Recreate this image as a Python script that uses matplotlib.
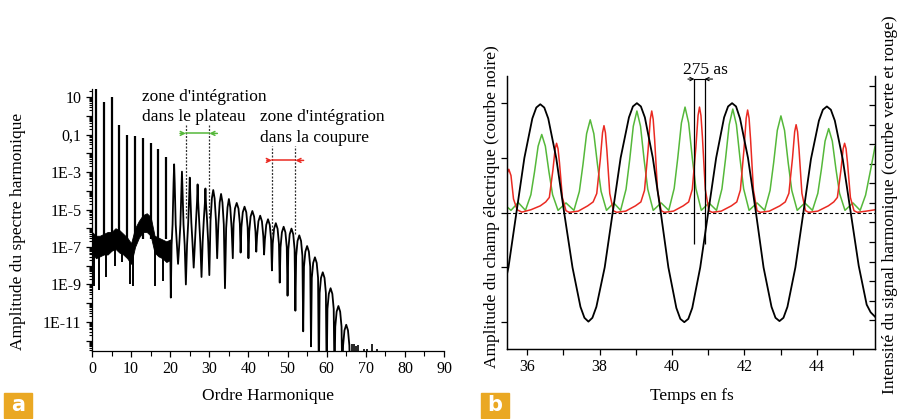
import matplotlib
matplotlib.use("Agg")
import matplotlib.pyplot as plt
import numpy as np
from matplotlib.ticker import FixedLocator, FuncFormatter, MultipleLocator, NullFormatter
from matplotlib.patches import Rectangle

plt.rcParams['font.family'] = ['Liberation Serif', 'DejaVu Serif']

# --- DONNÉES (a) : spectre harmonique, valeurs en log10 ---
# bande de bruit des ordres bas
bg_orders = [0, 1, 2, 3, 4, 5, 6, 7, 8, 9, 10, 11, 12, 13, 14, 15, 16, 17, 18, 19, 20]
bg_hi = [-6.2, -6.4, -6.4, -6.3, -6.2, -6.2, -6.0, -6.1, -6.3, -6.5, -6.8, -6.0, -5.6,
         -5.3, -5.2, -5.4, -6.4, -6.5, -6.6, -6.7, -6.6]
bg_lo = [-7.3, -7.6, -7.5, -7.4, -7.4, -7.2, -7.1, -7.3, -7.4, -7.6, -7.9, -7.0, -6.5,
         -6.2, -6.2, -6.4, -7.3, -7.5, -7.6, -7.8, -7.7]
# pics fins des harmoniques basses
spike_orders = [1, 3, 5, 7, 9, 11, 13, 15, 17, 19]
spike_vals = [1.45, 0.72, 1.0, -0.49, -1.01, -1.08, -1.17, -1.44, -1.77, -2.18]
# creux profonds du bruit
dip_orders = [0.4, 1.8, 3.7, 5.9, 7.6, 9.7, 10.6, 16.1, 18.2]
dip_vals = [-9.1, -9.3, -8.6, -8.0, -7.8, -9.0, -9.1, -9.1, -8.8]
# plateau et coupure (lobes)
lobe_orders = [
    20.0, 20.15, 20.35,
    20.6, 20.85, 21, 21.15, 21.4, 21.7, 22,
    22.3, 22.6, 22.85, 23, 23.15, 23.4, 23.7, 24,
    24.3, 24.6, 24.85, 25, 25.15, 25.4, 25.7, 26,
    26.3, 26.6, 26.85, 27, 27.15, 27.4, 27.7, 28,
    28.3, 28.6, 28.85, 29, 29.15, 29.4, 29.7, 30,
    30.3, 30.65, 31, 31.35, 31.7, 32,
    32.3, 32.65, 33, 33.35, 33.7, 34,
    34.3, 34.65, 35, 35.35, 35.7, 36,
    36.2, 36.55, 37, 37.45, 37.8, 38,
    38.2, 38.55, 39, 39.45, 39.8, 40,
    40.2, 40.55, 41, 41.45, 41.8, 42,
    42.2, 42.55, 43, 43.45, 43.8, 44,
    44.2, 44.55, 45, 45.45, 45.8, 46,
    46.2, 46.55, 47, 47.45, 47.8, 48,
    48.2, 48.55, 49, 49.45, 49.8, 50,
    50.2, 50.55, 51, 51.45, 51.8, 52,
    52.2, 52.55, 53, 53.45, 53.8, 54,
    54.2, 54.55, 55, 55.45, 55.8, 56,
    56.2, 56.55, 57, 57.45, 57.8, 58,
    58.2, 58.55, 59, 59.45, 59.8, 60,
    60.2, 60.55, 61, 61.45, 61.8, 62,
    62.2, 62.55, 63, 63.45, 63.8, 64,
    64.2, 64.55, 65, 65.45, 65.8, 66,
]
lobe_vals = [
    -6.8, -9.7, -6.9,
    -5.8, -3.6, -2.59, -3.6, -5.8, -6.9, -7.9,
    -6.9, -5.8, -3.98, -2.98, -3.98, -5.8, -6.9, -9.0,
    -6.9, -5.7, -4.3, -3.3, -4.3, -5.7, -6.8, -8.1,
    -6.8, -5.6, -4.6, -3.66, -4.6, -5.6, -6.8, -8.6,
    -6.7, -5.5, -4.7, -3.88, -4.7, -5.5, -6.7, -8.5,
    -5.6, -4.41, -3.96, -4.41, -5.6, -7.6,
    -5.8, -4.62, -4.17, -4.62, -5.8, -9.2,
    -6.0, -4.89, -4.44, -4.89, -6.0, -7.6,
    -5.75, -4.95, -4.65, -4.95, -5.75, -7.3,
    -5.95, -5.15, -4.85, -5.15, -5.95, -7.6,
    -6.18, -5.38, -5.08, -5.38, -6.18, -7.25,
    -6.43, -5.63, -5.33, -5.63, -6.43, -7.4,
    -6.62, -5.82, -5.52, -5.82, -6.62, -8.25,
    -6.83, -6.03, -5.73, -6.03, -6.83, -8.9,
    -7.02, -6.22, -5.92, -6.22, -7.02, -9.6,
    -7.12, -6.32, -6.02, -6.32, -7.12, -10.4,
    -7.48, -6.68, -6.38, -6.68, -7.48, -11.5,
    -8.05, -7.25, -6.95, -7.25, -8.05, -12.3,
    -8.65, -7.85, -7.55, -7.85, -8.65, -14,
    -9.45, -8.65, -8.35, -8.65, -9.45, -14,
    -10.3, -9.5, -9.2, -9.5, -10.3, -14,
    -11.25, -10.45, -10.15, -10.45, -11.25, -14,
    -12.25, -11.45, -11.15, -11.45, -12.25, -14,
]
tail_orders = [66.6, 67.1, 67.6, 68.1, 69.6, 70.3, 71.5, 72.8]
tail_vals = [-12.2, -12.15, -12.3, -12.25, -12.45, -12.45, -12.2, -12.45]

# zones d'intégration (ordres)
plateau_zone = [24, 30]
cutoff_zone = [46, 52]

# --- DONNÉES (b) : champ électrique et intensités ---
t_field = [35.44, 35.48, 35.70, 35.92, 36.14, 36.25, 36.36, 36.47, 36.58, 36.80,
           37.02, 37.25, 37.47, 37.58, 37.69, 37.80, 37.91, 38.14, 38.36, 38.58,
           38.81, 38.92, 39.03, 39.14, 39.25, 39.47, 39.69, 39.90, 40.12, 40.23,
           40.34, 40.45, 40.56, 40.78, 41.00, 41.22, 41.44, 41.55, 41.66, 41.77,
           41.88, 42.10, 42.32, 42.53, 42.75, 42.86, 42.97, 43.08, 43.19, 43.41,
           43.63, 43.84, 44.06, 44.17, 44.28, 44.39, 44.50, 44.72, 44.94, 45.16,
           45.38, 45.49, 45.61]
e_field = [-0.56, -0.50, 0.00, 0.50, 0.86, 0.96, 0.99, 0.96, 0.86, 0.50,
           0.00, -0.50, -0.86, -0.96, -0.995, -0.96, -0.86, -0.50, 0.00, 0.50,
           0.87, 0.97, 1.00, 0.97, 0.87, 0.50, 0.00, -0.50, -0.87, -0.97,
           -1.00, -0.97, -0.87, -0.50, 0.00, 0.50, 0.87, 0.97, 1.00, 0.97,
           0.86, 0.50, 0.00, -0.50, -0.86, -0.96, -0.99, -0.96, -0.86, -0.50,
           0.00, 0.49, 0.84, 0.94, 0.97, 0.94, 0.84, 0.485, 0.00, -0.485,
           -0.84, -0.91, -0.95]

t_green = [35.44, 35.55, 35.75, 35.95, 36.10, 36.20, 36.30, 36.40, 36.50, 36.60, 36.70, 36.85,
           37.07, 37.29, 37.44, 37.54, 37.64, 37.74, 37.84, 37.94, 38.04, 38.19,
           38.39, 38.58, 38.73, 38.83, 38.93, 39.03, 39.13, 39.23, 39.33, 39.48,
           39.70, 39.91, 40.06, 40.16, 40.26, 40.36, 40.46, 40.56, 40.66, 40.81,
           41.02, 41.23, 41.38, 41.48, 41.58, 41.68, 41.78, 41.88, 41.98, 42.13,
           42.35, 42.56, 42.71, 42.81, 42.91, 43.01, 43.11, 43.21, 43.31, 43.46,
           43.67, 43.88, 44.03, 44.13, 44.23, 44.33, 44.43, 44.53, 44.63, 44.78,
           45.00, 45.20, 45.35, 45.50, 45.61]
i_green = [0.3, 0.12, 0.52, 0.12, 0.92, 2.08, 3.4, 4.0, 3.4, 2.08, 0.92, 0.12,
           0.5, 0.12, 1.09, 2.47, 4.04, 4.75, 4.04, 2.47, 1.09, 0.12,
           0.5, 0.12, 1.2, 2.7, 4.42, 5.2, 4.42, 2.7, 1.2, 0.12,
           0.5, 0.12, 1.24, 2.81, 4.59, 5.4, 4.59, 2.81, 1.24, 0.12,
           0.5, 0.12, 1.22, 2.76, 4.5, 5.3, 4.5, 2.76, 1.22, 0.12,
           0.5, 0.12, 1.14, 2.57, 4.21, 4.95, 4.21, 2.57, 1.14, 0.12,
           0.5, 0.12, 0.99, 2.24, 3.66, 4.3, 3.66, 2.24, 0.99, 0.12,
           0.5, 0.12, 0.9, 2.3, 3.38]

t_red = [35.44, 35.49, 35.55, 35.62, 35.72, 35.85, 36.10,
         36.36, 36.51, 36.61, 36.71, 36.77, 36.81, 36.85, 36.89, 36.97, 37.07, 37.16, 37.41,
         37.67, 37.82, 37.92, 38.02, 38.08, 38.12, 38.16, 38.20, 38.28, 38.38, 38.47, 38.72,
         38.99, 39.14, 39.24, 39.34, 39.40, 39.44, 39.48, 39.52, 39.60, 39.70, 39.79, 40.04,
         40.31, 40.46, 40.56, 40.66, 40.72, 40.76, 40.80, 40.84, 40.92, 41.02, 41.11, 41.36,
         41.64, 41.79, 41.89, 41.99, 42.05, 42.09, 42.13, 42.17, 42.25, 42.35, 42.44, 42.69,
         42.98, 43.13, 43.23, 43.33, 43.39, 43.43, 43.47, 43.51, 43.59, 43.69, 43.78, 44.03,
         44.32, 44.47, 44.57, 44.67, 44.73, 44.77, 44.81, 44.85, 44.93, 45.03, 45.12, 45.37,
         45.61]
i_red = [2.0, 2.22, 1.9, 0.7, 0.15, 0.03, 0.15,
         0.35, 0.55, 0.78, 2.2, 3.27, 3.55, 3.27, 2.56, 0.78, 0.1, 0.02, 0.08,
         0.35, 0.55, 0.98, 2.76, 4.09, 4.45, 4.09, 3.2, 0.98, 0.1, 0.02, 0.08,
         0.35, 0.55, 1.14, 3.22, 4.78, 5.2, 4.78, 3.74, 1.14, 0.1, 0.02, 0.08,
         0.35, 0.55, 1.19, 3.35, 4.97, 5.4, 4.97, 3.89, 1.19, 0.1, 0.02, 0.08,
         0.35, 0.55, 1.16, 3.26, 4.83, 5.25, 4.83, 3.78, 1.16, 0.1, 0.02, 0.08,
         0.35, 0.55, 0.99, 2.79, 4.14, 4.5, 4.14, 3.24, 0.99, 0.1, 0.02, 0.08,
         0.35, 0.55, 0.78, 2.2, 3.27, 3.55, 3.27, 2.56, 0.78, 0.1, 0.02, 0.08,
         0.15]

pulse_edges = [40.62, 40.90]

GREEN = '#55b83a'
RED = '#ea2a22'
BADGE = '#eaa823'

W, H = 897, 419
fig = plt.figure(figsize=(W / 100, H / 100), dpi=100)

# ---------- (a) ----------
ax = fig.add_axes([92 / W, 1 - 351 / H, 352 / W, 262 / H])
ax.set_yscale('log')
ax.fill_between(bg_orders, 10.0 ** np.array(bg_lo), 10.0 ** np.array(bg_hi), color='k', lw=0.6)
ax.vlines(spike_orders, 10.0 ** -6.6, 10.0 ** np.array(spike_vals), color='k', lw=1.6)
ax.vlines(dip_orders, 10.0 ** np.array(dip_vals), 10.0 ** -7.0, color='k', lw=1.4)
ax.plot(lobe_orders, 10.0 ** np.array(lobe_vals), color='k', lw=1.3)
ax.vlines(tail_orders, 10.0 ** -12.6, 10.0 ** np.array(tail_vals), color='k', lw=1.2)

ax.set_xlim(0, 90)
ax.set_ylim(10 ** -12.55, 10 ** 1.43)
for s in ['top', 'right']:
    ax.spines[s].set_visible(False)
for s in ['left', 'bottom']:
    ax.spines[s].set_linewidth(0.9)

ax.xaxis.set_major_locator(MultipleLocator(10))
ax.xaxis.set_minor_locator(MultipleLocator(5))
major_exp = list(range(-12, 2))
ax.yaxis.set_major_locator(FixedLocator([10.0 ** e for e in major_exp]))
ax.yaxis.set_minor_locator(FixedLocator([m * 10.0 ** e for e in range(-13, 2) for m in range(2, 10)]))
ax.yaxis.set_minor_formatter(NullFormatter())


def log_label(v, pos):
    e = int(round(np.log10(v)))
    if e % 2 == 0:
        return ''
    if e == 1:
        return '10'
    if e == -1:
        return '0,1'
    return '1E%d' % e


ax.yaxis.set_major_formatter(FuncFormatter(log_label))
ax.tick_params(axis='both', which='major', direction='out', length=4.5, width=0.9,
               labelsize=11.5, pad=3)
ax.tick_params(axis='both', which='minor', direction='out', length=2.5, width=0.8)
ax.tick_params(axis='x', which='minor', length=3.5)

# zones d'intégration
ax.vlines(plateau_zone, 10 ** -5.45, 10 ** -0.49, colors='0.2', linestyles=(0, (1.6, 1.2)), lw=0.9)
ax.vlines(cutoff_zone, 10 ** -6.3, 10 ** -1.6, colors='0.2', linestyles=(0, (1.6, 1.2)), lw=0.9)
for zone, yv, x_out, col in [(plateau_zone, 10 ** -0.94, (22.5, 32.05), GREEN),
                             (cutoff_zone, 10 ** -2.38, (44.7, 54.1), RED)]:
    ax.plot(zone, [yv, yv], color=col, lw=1.1)
    ax.annotate('', xy=(zone[0], yv), xytext=(x_out[0], yv),
                arrowprops=dict(arrowstyle='->', color=col, lw=1.1, mutation_scale=7,
                                shrinkA=0, shrinkB=0))
    ax.annotate('', xy=(zone[1], yv), xytext=(x_out[1], yv),
                arrowprops=dict(arrowstyle='->', color=col, lw=1.1, mutation_scale=7,
                                shrinkA=0, shrinkB=0))

ax.text(12.85, 10 ** 1.02, "zone d'intégration", fontsize=12.5, va='center', ha='left')
ax.text(12.85, 10 ** -0.083, "dans le plateau", fontsize=12.5, va='center', ha='left')
ax.text(42.95, 10 ** -0.083, "zone d'intégration", fontsize=12.5, va='center', ha='left')
ax.text(42.95, 10 ** -1.203, "dans la coupure", fontsize=12.5, va='center', ha='left')

fig.text(18 / W, 1 - 231 / H, 'Amplitude du spectre harmonique', rotation=90,
         fontsize=12.5, ha='center', va='center')
fig.text(268 / W, 1 - 396 / H, 'Ordre Harmonique', fontsize=12.5, ha='center', va='center')

# ---------- (b) ----------
bx = fig.add_axes([507 / W, 1 - 349 / H, 368 / W, 273 / H])
bx2 = bx.twinx()
bx.set_zorder(bx2.get_zorder() + 1)
bx.patch.set_visible(False)

bx2.plot(t_green, i_green, color=GREEN, lw=1.1)
bx2.plot(t_red, i_red, color=RED, lw=1.1)
bx.plot(t_field, e_field, color='k', lw=1.3)
bx.axhline(0, color='k', lw=0.8, ls=(0, (3, 2)))

bx.vlines(pulse_edges, -0.283, 1.22, color='k', lw=0.9)
y_arr = 1.22
bx.plot(pulse_edges, [y_arr, y_arr], color='k', lw=0.8)
bx.annotate('', xy=(pulse_edges[0], y_arr), xytext=(40.44, y_arr),
            arrowprops=dict(arrowstyle='->', color='k', lw=0.8, mutation_scale=6, shrinkA=0, shrinkB=0))
bx.annotate('', xy=(pulse_edges[1], y_arr), xytext=(41.12, y_arr),
            arrowprops=dict(arrowstyle='->', color='k', lw=0.8, mutation_scale=6, shrinkA=0, shrinkB=0))
bx.text(40.93, 1.30, '275 as', fontsize=12.5, ha='center', va='center', clip_on=False)

bx.set_xlim(35.44, 45.61)
bx.set_ylim(-1.245, 1.248)
bx2.set_ylim(-6.97, 6.99)

bx.xaxis.set_major_locator(MultipleLocator(2))
bx.xaxis.set_minor_locator(MultipleLocator(1))
bx.yaxis.set_major_locator(MultipleLocator(0.5))
bx.yaxis.set_major_formatter(NullFormatter())
bx2.yaxis.set_major_locator(FixedLocator(np.arange(-5.5, 7.0, 1.0)))
bx2.yaxis.set_major_formatter(NullFormatter())

for a_ in (bx, bx2):
    a_.spines['top'].set_visible(False)
    for s in ['left', 'right', 'bottom']:
        a_.spines[s].set_linewidth(0.9)
bx.tick_params(axis='x', which='both', direction='out', length=4, width=0.9, labelsize=11.5, pad=3)
bx.tick_params(axis='y', which='major', direction='out', length=4.5, width=0.9)
bx2.tick_params(axis='y', which='major', direction='in', length=4, width=0.9)

fig.text(492 / W, 1 - 207 / H, 'Amplitude du champ électrique (courbe noire)', rotation=90,
         fontsize=12.5, ha='center', va='center')
fig.text(890 / W, 1 - 205 / H, 'Intensité du signal harmonique (courbe verte et rouge)',
         rotation=90, fontsize=12.5, ha='center', va='center')
fig.text(692 / W, 1 - 396 / H, 'Temps en fs', fontsize=12.5, ha='center', va='center')

# badges a / b
for x0, lab in [(4, 'a'), (481, 'b')]:
    fig.patches.append(Rectangle((x0 / W, 1 - 418 / H), 28 / W, 25 / H,
                                 transform=fig.transFigure, color=BADGE, zorder=5))
    fig.text((x0 + 14) / W, 1 - 405 / H, lab, color='white', fontsize=15,
             fontweight='bold', family='DejaVu Sans', ha='center', va='center', zorder=6)

fig.savefig('out.png', dpi=100)
